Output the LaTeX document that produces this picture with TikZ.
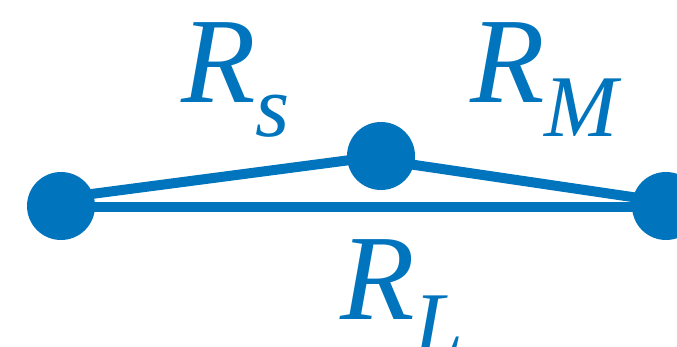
\documentclass[tikz,border=0pt]{standalone}
\usepackage{fontspec}
\setmainfont{Liberation Serif}
\definecolor{ablue}{RGB}{0,116,188}
\begin{document}
\begin{tikzpicture}[x=1pt,y=-1pt,
  dot/.style={circle,fill=ablue,draw=none,minimum size=68pt,inner sep=0pt},
  wire/.style={draw=ablue,line width=10pt},
  lbl/.style={text=ablue,inner sep=0pt,font=\fontsize{122}{122}\selectfont\itshape}]
\useasboundingbox (0,0) rectangle (677,347);
\node[dot] (l) at (61,206) {};
\node[dot] (m) at (381,156) {};
\node[dot] (r) at (666,206) {};
\draw[wire] ([yshift=-1pt]l.center) -- ([yshift=-1pt]r.center);
\draw[wire] ([yshift=8pt]l.center) -- (m.center);
\draw[wire] ([yshift=-4pt]m.center) -- ([yshift=4pt]r.center);
\node[lbl,anchor=base west] (rs) at (181,103) {R\raisebox{-34pt}{\fontsize{88}{88}\selectfont s}};
\node[lbl,anchor=base west] (rm) at (470,103) {R\raisebox{-34pt}{\fontsize{88}{88}\selectfont M}};
\node[lbl,anchor=base west] (rl) at (340,319) {R\raisebox{-34pt}{\fontsize{88}{88}\selectfont L}};
\end{tikzpicture}
\end{document}
